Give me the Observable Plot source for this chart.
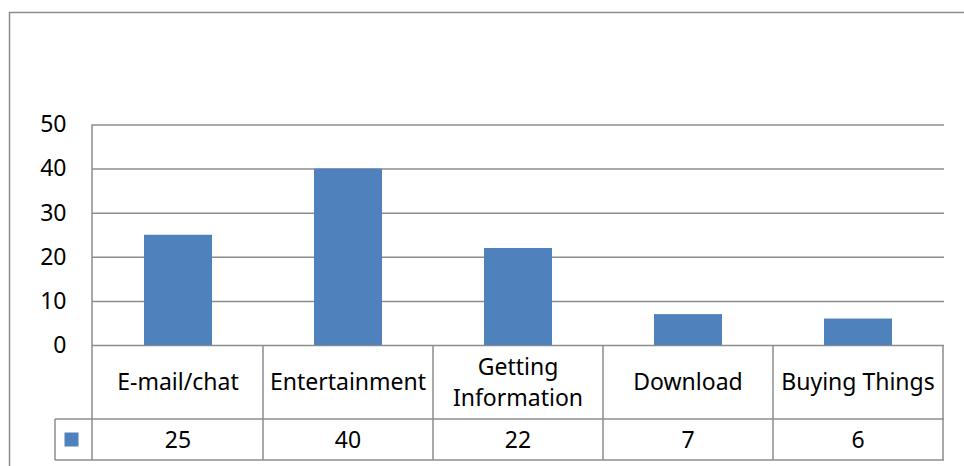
<!DOCTYPE html>
<html>
<head>
<meta charset="utf-8">
<script src="https://cdn.jsdelivr.net/npm/d3@7"></script>
<script src="https://cdn.jsdelivr.net/npm/@observablehq/plot@0.6"></script>
<style>
  html, body { margin: 0; padding: 0; background: #fff; }
  #chart svg { display: block; }
</style>
</head>
<body>
<div id="chart"></div>
<script>
const categories = ["E-mail/chat", "Entertainment", "Getting Information", "Download", "Buying Things"];
const values = [25, 40, 22, 7, 6];
const yTicks = [0, 10, 20, 30, 40, 50];

const data = categories.map((c, i) => ({category: c, value: values[i]}));

const FONT = "Noto Sans";
const FS = 23;
const GRID = "#8c8c8c";
const BAR = "#4f81bd";

const plot = Plot.plot({
  width: 964,
  height: 466,
  marginLeft: 92,
  marginRight: 20,
  marginTop: 124.5,
  marginBottom: 121,
  style: {fontFamily: FONT, fontSize: FS + "px", color: "#000", background: "#fff", overflow: "hidden"},
  x: {domain: categories, range: [92, 944], paddingInner: 0.6, paddingOuter: 0.3, axis: null},
  y: {domain: [0, 50], range: [345, 124.5], ticks: yTicks, tickSize: 0, tickPadding: 26, label: null, tickFormat: d3.format("d")},
  marks: [
    Plot.ruleY(yTicks, {stroke: GRID, strokeWidth: 1.5, strokeOpacity: 1}),
    Plot.barY(data, {x: "category", y: "value", fill: BAR})
  ]
});

document.getElementById("chart").appendChild(plot);

// Excel-style data table under the plot, positioned from Plot's own scales
const sx = plot.scale("x");
const sy = plot.scale("y");
const svg = d3.select(plot);
const step = sx.step, bw = sx.bandwidth;
const cellLeft = c => sx.apply(c) - (step - bw) / 2;
const x0 = sx.range[0], x1 = sx.range[1];
const yZero = sy.apply(0), yTop = sy.apply(50);
const rowCatH = 74, rowValH = 41;
const yMid = yZero + rowCatH, yBot = yMid + rowValH;
const legW = 37;

const g = svg.append("g").attr("stroke", GRID).attr("stroke-width", 1.5).attr("fill", "none");
// outer chart border
g.append("rect").attr("x", 9.5).attr("y", 12.5).attr("width", 1000).attr("height", 1000);
// left axis line through table
g.append("line").attr("x1", x0).attr("x2", x0).attr("y1", yTop).attr("y2", yBot);
// vertical cell separators
categories.forEach(c => {
  const r = cellLeft(c) + step;
  g.append("line").attr("x1", r).attr("x2", r).attr("y1", yZero).attr("y2", yBot);
});
// horizontal table lines
g.append("line").attr("x1", x0 - legW).attr("x2", x1).attr("y1", yMid).attr("y2", yMid);
g.append("line").attr("x1", x0 - legW).attr("x2", x1).attr("y1", yBot).attr("y2", yBot);
g.append("line").attr("x1", x0 - legW).attr("x2", x0 - legW).attr("y1", yMid).attr("y2", yBot);
// legend key
svg.append("rect").attr("x", x0 - legW / 2 - 9).attr("y", yMid + rowValH / 2 - 7)
  .attr("width", 14).attr("height", 14).attr("fill", BAR);

const t = svg.append("g").attr("font-family", FONT).attr("font-size", FS).attr("fill", "#000").attr("text-anchor", "middle");
categories.forEach(c => {
  const cx = cellLeft(c) + step / 2;
  const txt = t.append("text").attr("x", cx).attr("y", yZero + rowCatH / 2).attr("dy", "0.35em").text(c);
  if (txt.node().getComputedTextLength() > step - 8) {
    const words = c.split(" ");
    txt.text(null).attr("dy", null);
    const lh = 31;
    words.forEach((w, i) => {
      txt.append("tspan").attr("x", cx).attr("y", yZero + rowCatH / 2 + (i - (words.length - 1) / 2) * lh).attr("dy", "0.35em").text(w);
    });
  }
});
values.forEach((v, i) => {
  const cx = cellLeft(categories[i]) + step / 2;
  t.append("text").attr("x", cx).attr("y", yMid + rowValH / 2).attr("dy", "0.35em").text(v);
});
</script>
</body>
</html>
